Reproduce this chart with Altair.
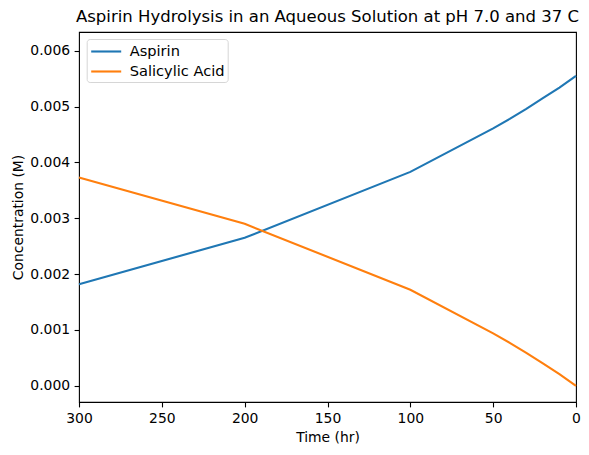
import altair as alt
import pandas as pd

times = [0, 10, 20, 30, 40, 50, 100, 200, 300]
aspirin = [0.00555, 0.00534, 0.00515, 0.00496, 0.00478, 0.00461, 0.00383, 0.00265, 0.00182]
salicylic = [0.0, 0.00021, 0.0004, 0.00059, 0.00077, 0.00094, 0.00172, 0.0029, 0.00373]
series_names = ["Aspirin", "Salicylic Acid"]
colors = ["#1f77b4", "#ff7f0e"]
x_ticks = [0, 50, 100, 150, 200, 250, 300]
y_ticks = [0.0, 0.001, 0.002, 0.003, 0.004, 0.005, 0.006]

rows = []
for t, v in zip(times, aspirin):
    rows.append({"time": t, "conc": v, "series": series_names[0], "order": 0})
for t, v in zip(times, salicylic):
    rows.append({"time": t, "conc": v, "series": series_names[1], "order": 1})
df = pd.DataFrame(rows)

FONT = "DejaVu Sans"

chart = alt.Chart(df).mark_line(strokeWidth=2.1).encode(
    x=alt.X("time:Q",
            scale=alt.Scale(domain=[300, 0], nice=False, zero=False),
            axis=alt.Axis(values=x_ticks, title="Time (hr)", format="d", labelFlush=False)),
    y=alt.Y("conc:Q",
            scale=alt.Scale(domain=[-0.00029, 0.006335], nice=False, zero=False),
            axis=alt.Axis(values=y_ticks, title="Concentration (M)", format=".3f")),
    color=alt.Color("series:N",
                    scale=alt.Scale(domain=series_names, range=colors),
                    legend=alt.Legend(title=None, orient="none", legendX=7.7, legendY=7.0,
                                      symbolType="M-1.875,0L1.875,0", symbolSize=256,
                                      symbolStrokeWidth=2.1, symbolOffset=7,
                                      labelOffset=14, labelFontSize=14.6, labelFont=FONT,
                                      labelColor="black", rowPadding=3, padding=3,
                                      strokeColor="#d6d6d6", fillColor="white",
                                      cornerRadius=3)),
    order="order:Q",
    detail="series:N",
).properties(
    width=497, height=370,
    autosize="none",
    padding={"left": 71, "top": 24, "right": 5, "bottom": 45},
    title=alt.TitleParams("Aspirin Hydrolysis in an Aqueous Solution at pH 7.0 and 37 C",
                          font=FONT, fontSize=16.5, fontWeight="normal", color="black",
                          anchor="middle", offset=7),
).configure_view(
    stroke="black", strokeWidth=1.1
).configure_axis(
    grid=False, domain=False,
    tickColor="black", tickSize=4.9, tickWidth=1.1,
    labelFont=FONT, labelFontSize=13.9, labelColor="black", labelPadding=4.5,
    titleFont=FONT, titleFontSize=13.9, titleColor="black", titleFontWeight="normal",
).configure_axisX(
    titlePadding=5
).configure_axisY(
    titlePadding=4
)

chart.save("out.html", embed_options={"renderer": "svg", "actions": False})
